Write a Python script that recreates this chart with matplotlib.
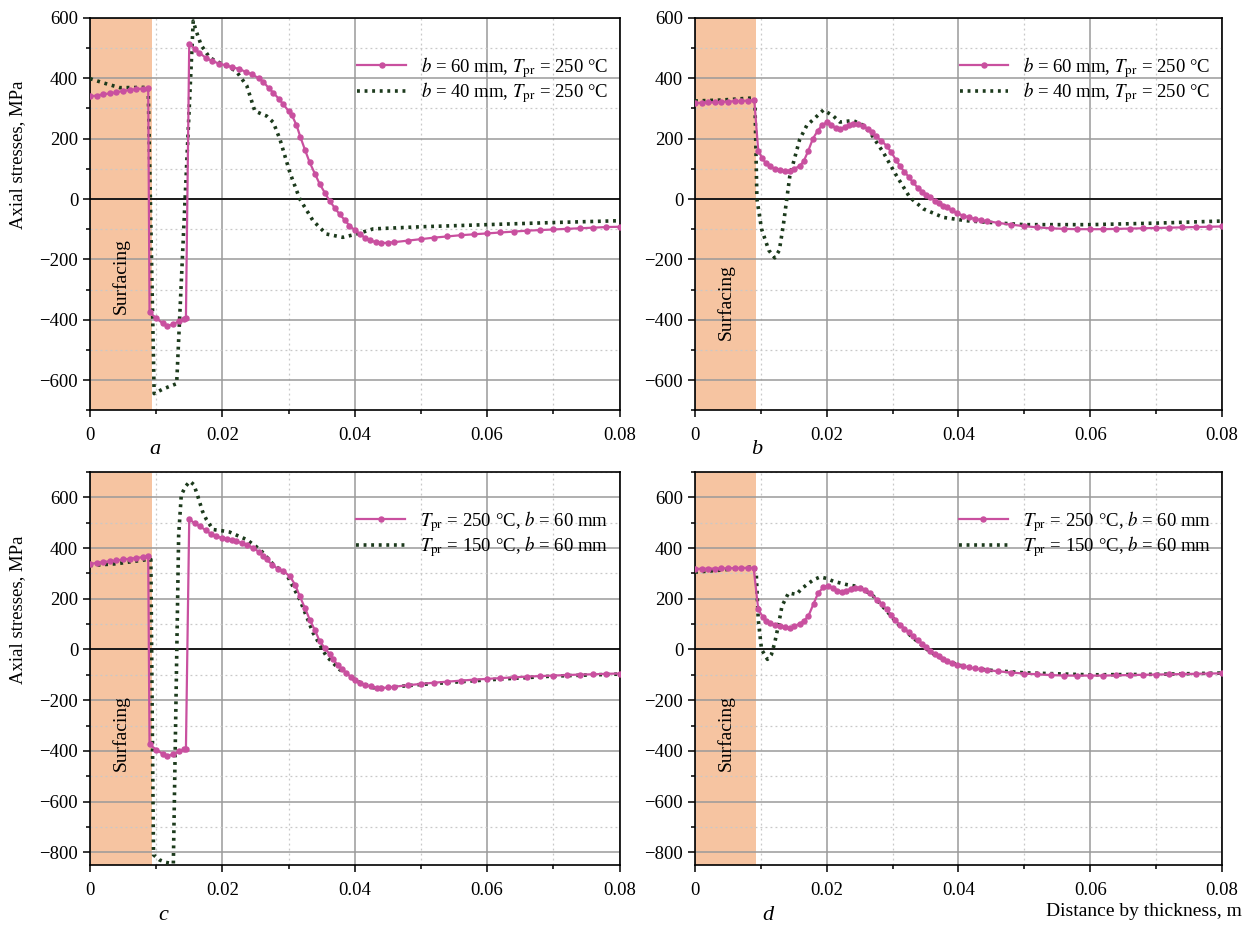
import matplotlib
matplotlib.use("Agg")
import matplotlib.pyplot as plt
from matplotlib.ticker import MultipleLocator

plt.rcParams['font.family'] = ['Liberation Serif', 'DejaVu Serif']
plt.rcParams['mathtext.fontset'] = 'stix'

# ---- data (x in m, stress in MPa) ----
surf_end = 0.0093

# panel a
xa_pink = [0, 0.001, 0.002, 0.003, 0.004, 0.005, 0.006, 0.007, 0.008, 0.0088,
           0.0090, 0.0100, 0.0110, 0.0117, 0.0125, 0.0135, 0.0142, 0.0145,
           0.0150, 0.0158, 0.0165, 0.0175, 0.0185, 0.0195, 0.0205, 0.0215,
           0.0225, 0.0235, 0.0245, 0.0255, 0.0262, 0.0270, 0.0277, 0.0285,
           0.0292, 0.0300, 0.0305, 0.0312, 0.0318, 0.0325, 0.0332, 0.0340,
           0.0347, 0.0355, 0.0362, 0.0370, 0.0377, 0.0385, 0.0392, 0.0400,
           0.0408, 0.0415, 0.0423, 0.0432, 0.0440, 0.045, 0.046, 0.048, 0.050,
           0.052, 0.054, 0.056, 0.058, 0.060, 0.062, 0.064, 0.066, 0.068,
           0.070, 0.072, 0.074, 0.076, 0.078, 0.080]
ya_pink = [340, 343, 347, 350, 354, 358, 361, 364, 366, 368,
           -375, -395, -412, -421, -415, -405, -397, -395,
           515, 498, 485, 468, 457, 449, 443, 437,
           431, 422, 413, 400, 388, 368, 352, 333,
           314, 292, 278, 245, 205, 162, 121, 83,
           50, 20, -6, -30, -50, -70, -88, -103,
           -116, -128, -137, -143, -146, -145, -143, -138, -133,
           -128, -124, -120, -117, -114, -111, -108, -105, -103,
           -101, -99, -97, -95, -93, -92]
xa_green = [0, 0.002, 0.0045, 0.0086, 0.0088, 0.0097, 0.0110, 0.0131, 0.0156,
            0.0160, 0.0168, 0.0181, 0.0201, 0.0221, 0.0237, 0.0249, 0.0258,
            0.0267, 0.0277, 0.0287, 0.0302, 0.0317, 0.0337, 0.0357, 0.0382,
            0.0403, 0.0428, 0.050, 0.060, 0.070, 0.080]
ya_green = [399, 385, 369, 370, 370, -645, -630, -612, 590,
            560, 510, 468, 446, 424, 375, 292, 283,
            275, 254, 198, 88, 0, -72, -116, -127,
            -116, -99, -92, -85, -78, -72]

# panel b
xb_pink = [0, 0.001, 0.002, 0.003, 0.004, 0.005, 0.006, 0.007, 0.008, 0.009,
           0.0096, 0.0102, 0.0108, 0.0114, 0.0121, 0.0129, 0.0136, 0.0144,
           0.0151, 0.0159, 0.0165, 0.0172, 0.0179, 0.0186, 0.0193, 0.0200,
           0.0207, 0.0214, 0.0220, 0.0227, 0.0234, 0.0240, 0.0248, 0.0255,
           0.0262, 0.0268, 0.0275, 0.0283, 0.0291, 0.0298, 0.0305, 0.0311,
           0.0318, 0.0325, 0.0331, 0.0338, 0.0345, 0.0351, 0.0357, 0.0364,
           0.0370, 0.0376, 0.0382, 0.0390, 0.0398, 0.0407, 0.0416, 0.0425,
           0.0434, 0.0443, 0.046, 0.048, 0.050, 0.052, 0.054, 0.056, 0.058,
           0.060, 0.062, 0.064, 0.066, 0.068, 0.070, 0.072, 0.074, 0.076,
           0.078, 0.080]
yb_pink = [318, 319, 320, 321, 322, 323, 324, 325, 326, 327,
           160, 135, 118, 108, 100, 96, 93, 93,
           100, 110, 125, 160, 200, 225, 245, 254,
           245, 235, 231, 238, 245, 248, 247, 242,
           232, 222, 208, 193, 176, 155, 130, 110,
           90, 72, 55, 38, 24, 14, 5, -5,
           -14, -22, -28, -38, -47, -55, -61, -66,
           -70, -73, -79, -85, -90, -94, -97, -99, -100,
           -100, -100, -99, -98, -97, -96, -95, -94, -93,
           -92, -91]
xb_green = [0, 0.004, 0.0088, 0.0091, 0.0094, 0.0101, 0.0112, 0.0121, 0.0128,
            0.0134, 0.0144, 0.0159, 0.0170, 0.0180, 0.0195, 0.0210, 0.0220,
            0.0240, 0.0255, 0.0266, 0.0286, 0.0306, 0.0326, 0.0347, 0.0377,
            0.0412, 0.0443, 0.050, 0.060, 0.070, 0.080]
yb_green = [325, 328, 335, 320, 0, -99, -170, -195, -170,
            -88, 77, 198, 245, 264, 295, 275, 255,
            260, 245, 220, 154, 77, 6, -33, -61,
            -72, -77, -85, -85, -80, -73]

# panel c
xc_pink = [0, 0.001, 0.002, 0.003, 0.004, 0.005, 0.006, 0.007, 0.008, 0.0088,
           0.0090, 0.0100, 0.0110, 0.0117, 0.0125, 0.0135, 0.0142, 0.0145,
           0.0150, 0.0158, 0.0166, 0.0175, 0.0183, 0.0191, 0.0199, 0.0207,
           0.0214, 0.0221, 0.0229, 0.0237, 0.0247, 0.0255, 0.0261, 0.0267,
           0.0275, 0.0284, 0.0292, 0.0302, 0.0310, 0.0317, 0.0325, 0.0332,
           0.0340, 0.0347, 0.0355, 0.0362, 0.0367, 0.0375, 0.0381, 0.0387,
           0.0395, 0.0401, 0.0408, 0.0416, 0.0424, 0.0433, 0.0440, 0.045,
           0.046, 0.048, 0.050, 0.052, 0.054, 0.056, 0.058, 0.060, 0.062,
           0.064, 0.066, 0.068, 0.070, 0.072, 0.074, 0.076, 0.078, 0.080]
yc_pink = [338, 341, 345, 348, 351, 355, 358, 361, 364, 367,
           -374, -395, -412, -420, -414, -402, -394, -392,
           515, 497, 486, 470, 455, 446, 440, 436,
           432, 427, 420, 412, 401, 385, 370, 355,
           335, 318, 309, 289, 255, 210, 162, 118,
           75, 33, 5, -18, -39, -62, -78, -92,
           -110, -121, -131, -140, -146, -151, -152, -150,
           -147, -141, -136, -131, -127, -123, -119, -116, -113,
           -110, -107, -105, -103, -101, -99, -98, -96, -95]
xc_green = [0, 0.004, 0.0088, 0.0092, 0.0096, 0.0105, 0.0115, 0.0126, 0.0130,
            0.0134, 0.0138, 0.0145, 0.0151, 0.0157, 0.0163, 0.0170, 0.0176,
            0.0186, 0.0200, 0.0211, 0.0237, 0.0257, 0.0277, 0.0297, 0.0317,
            0.0337, 0.0357, 0.0377, 0.0403, 0.0428, 0.045, 0.050, 0.060,
            0.070, 0.080]
yc_green = [331, 338, 355, 355, -810, -830, -840, -845, -200,
            450, 610, 645, 663, 650, 604, 545, 512,
            473, 468, 463, 433, 394, 335, 296, 197,
            66, -26, -79, -125, -151, -150, -138, -120,
            -105, -97]

# panel d
xd_pink = [0, 0.001, 0.002, 0.003, 0.004, 0.005, 0.006, 0.007, 0.008, 0.0089,
           0.0096, 0.0103, 0.0108, 0.0114, 0.0121, 0.0129, 0.0136, 0.0144,
           0.0151, 0.0159, 0.0165, 0.0172, 0.0180, 0.0187, 0.0195, 0.0202,
           0.0209, 0.0216, 0.0223, 0.0230, 0.0237, 0.0243, 0.0250, 0.0258,
           0.0266, 0.0276, 0.0284, 0.0291, 0.0298, 0.0304, 0.0311, 0.0318,
           0.0325, 0.0331, 0.0338, 0.0345, 0.0351, 0.0357, 0.0364, 0.0370,
           0.0376, 0.0382, 0.0390, 0.0398, 0.0407, 0.0416, 0.0425, 0.0434,
           0.0443, 0.046, 0.048, 0.050, 0.052, 0.054, 0.056, 0.058, 0.060,
           0.062, 0.064, 0.066, 0.068, 0.070, 0.072, 0.074, 0.076, 0.078,
           0.080]
yd_pink = [318, 318, 319, 319, 320, 320, 321, 321, 322, 322,
           158, 128, 112, 105, 97, 92, 88, 85,
           92, 102, 112, 131, 180, 223, 245, 252,
           243, 232, 226, 232, 240, 243, 241, 236,
           222, 197, 178, 158, 135, 115, 98, 82,
           67, 52, 37, 23, 9, -7, -16, -26,
           -36, -46, -54, -60, -66, -71, -75, -78,
           -81, -86, -91, -95, -98, -101, -103, -103, -103,
           -103, -102, -101, -100, -99, -98, -97, -96, -95,
           -94]
xd_green = [0, 0.004, 0.0089, 0.0093, 0.0096, 0.0101, 0.0110, 0.0116, 0.0121,
            0.0127, 0.0132, 0.0142, 0.0154, 0.0162, 0.0170, 0.0180, 0.0190,
            0.0200, 0.0210, 0.0230, 0.0250, 0.0271, 0.0291, 0.0311, 0.0331,
            0.0357, 0.0382, 0.0407, 0.0443, 0.050, 0.060, 0.070, 0.080]
yd_green = [305, 313, 326, 300, 118, 0, -39, -20, 26,
            100, 171, 223, 217, 240, 256, 275, 286,
            280, 269, 256, 247, 210, 152, 92, 46,
            -10, -46, -66, -81, -92, -100, -98, -93]

labels_ab = [r'$b$ = 60 mm, $T_{\rm pr}$ = 250 °C', r'$b$ = 40 mm, $T_{\rm pr}$ = 250 °C']
labels_cd = [r'$T_{\rm pr}$ = 250 °C, $b$ = 60 mm', r'$T_{\rm pr}$ = 150 °C, $b$ = 60 mm']

PINK = '#c9509f'
GREEN = '#1c3a1c'

fig = plt.figure(figsize=(12.44, 9.26), dpi=100)
boxes = {
    'a': [0.0723, 0.557, 0.4257, 0.4236],
    'b': [0.5587, 0.557, 0.4235, 0.4236],
    'c': [0.0723, 0.0659, 0.4257, 0.4244],
    'd': [0.5587, 0.0659, 0.4235, 0.4244],
}
panels = [
    ('a', xa_pink, ya_pink, xa_green, ya_green, labels_ab, (-700, 600), -255),
    ('b', xb_pink, yb_pink, xb_green, yb_green, labels_ab, (-700, 600), -340),
    ('c', xc_pink, yc_pink, xc_green, yc_green, labels_cd, (-850, 700), -330),
    ('d', xd_pink, yd_pink, xd_green, yd_green, labels_cd, (-850, 700), -330),
]

for name, xp, yp, xg, yg, labs, ylim, surf_y in panels:
    ax = fig.add_axes(boxes[name])
    ax.axvspan(0, surf_end, color='#f6c4a1', lw=0, zorder=0)
    ax.xaxis.set_major_locator(MultipleLocator(0.02))
    ax.xaxis.set_minor_locator(MultipleLocator(0.01))
    ax.yaxis.set_major_locator(MultipleLocator(200))
    ax.yaxis.set_minor_locator(MultipleLocator(100))
    ax.grid(which='major', color='#9a9a9a', lw=1.1, zorder=1)
    ax.grid(which='minor', color='#c8c8c8', lw=0.9, ls=(0, (1.5, 2.5)), zorder=1)
    ax.set_axisbelow(True)
    ax.axhline(0, color='#1a1a1a', lw=1.4, zorder=2)
    ax.plot(xp, yp, color=PINK, lw=1.6, marker='o', ms=3.6, label=labs[0], zorder=4)
    ax.plot(xg, yg, color=GREEN, lw=2.6, ls=(0, (0.8, 1.3)), label=labs[1], zorder=3)
    ax.set_xlim(0, 0.08)
    ax.set_ylim(*ylim)
    ax.set_xticks([0, 0.02, 0.04, 0.06, 0.08])
    ax.set_xticklabels(['0', '0.02', '0.04', '0.06', '0.08'])
    ax.tick_params(which='both', direction='out', labelsize=13.5, width=1.1)
    ax.tick_params(which='major', length=5)
    ax.tick_params(which='minor', length=3)
    ax.tick_params(axis='x', which='major', pad=7)
    for s in ax.spines.values():
        s.set_linewidth(1.2)
    ax.text(surf_end / 2, surf_y, 'Surfacing', rotation=90, ha='center', va='center',
            fontsize=14, zorder=5)
    ax.legend(loc='upper right', bbox_to_anchor=(1.0, 0.935), frameon=False,
              fontsize=13.5, handlelength=2.6, borderaxespad=0.2, labelspacing=0.04)

fig.text(155 / 1244, 1 - 449 / 926, 'a', style='italic', fontsize=16, ha='center', va='center')
fig.text(757 / 1244, 1 - 449 / 926, 'b', style='italic', fontsize=16, ha='center', va='center')
fig.text(163 / 1244, 1 - 916 / 926, 'c', style='italic', fontsize=16, ha='center', va='center')
fig.text(768 / 1244, 1 - 916 / 926, 'd', style='italic', fontsize=16, ha='center', va='center')
fig.text(1242 / 1244, 1 - 912 / 926, 'Distance by thickness, m', fontsize=14, ha='right', va='center')
fig.text(18 / 1244, 1 - 155 / 926, 'Axial stresses, MPa', rotation=90, fontsize=13.5, ha='center', va='center')
fig.text(18 / 1244, 1 - 610 / 926, 'Axial stresses, MPa', rotation=90, fontsize=13.5, ha='center', va='center')

fig.savefig('out.png', dpi=100)
